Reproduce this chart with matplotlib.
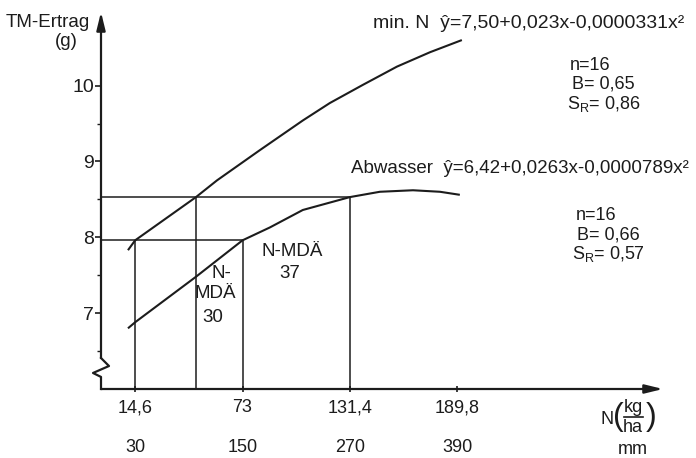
import matplotlib
matplotlib.use('Agg')
import matplotlib.pyplot as plt
from matplotlib.lines import Line2D

plt.rcParams['font.family'] = ['Liberation Sans', 'DejaVu Sans']
INK = '#1c1c1c'

# --- DATA ---
# x = N (kg/ha), y = TM-Ertrag (g)
minN_x = [10.7, 14.6, 47.7, 59.1, 82.5, 105.8, 120.5, 138.5, 157.0, 175.0, 192.3]
minN_y = [7.83, 7.96, 8.53, 8.75, 9.15, 9.54, 9.77, 10.01, 10.25, 10.44, 10.60]
abw_x = [10.7, 14.6, 47.7, 73.0, 87.9, 105.8, 131.4, 147.7, 165.7, 180.4, 191.2]
abw_y = [6.80, 6.88, 7.48, 7.96, 8.13, 8.36, 8.53, 8.60, 8.62, 8.60, 8.56]

level_hi = 8.53          # Abwasser yield at 131,4 kg N
level_lo = 7.96          # min. N yield at 14,6 kg N
drops_hi = [47.7, 131.4]
drops_lo = [14.6, 73.0]

n_ticks = [14.6, 73, 131.4, 189.8]
n_labels = ['14,6', '73', '131,4', '189,8']
mm_labels = ['30', '150', '270', '390']
y_ticks = [7, 8, 9, 10]
y_minor = [6.5, 7.5, 8.5, 9.5]

W, H = 696, 458


def px(x, y):
    # pixel position -> figure fraction
    return x / W, 1 - y / H


# --- FIGURE ---
fig = plt.figure(figsize=(W / 100, H / 100), dpi=100)
fig.patch.set_facecolor('white')
ax = fig.add_axes([101 / W, (H - 389) / H, (663 - 101) / W, (389 - 12) / H])
ax.set_xlim(-3.97, 301.7)
ax.set_ylim(6.0, 10.97)
for s in ax.spines.values():
    s.set_visible(False)

# curves
ax.plot(minN_x, minN_y, color=INK, lw=1.5, solid_capstyle='butt')
ax.plot(abw_x, abw_y, color=INK, lw=1.5, solid_capstyle='butt')

# read-off lines
x0 = ax.get_xlim()[0]
ax.hlines(level_hi, x0, drops_hi[-1], color=INK, lw=1.1)
ax.hlines(level_lo, x0, drops_lo[-1], color=INK, lw=1.1)
ax.vlines(drops_hi, 6.0, level_hi, color=INK, lw=1.1)
ax.vlines(drops_lo, 6.0, level_lo, color=INK, lw=1.1)

# axes with arrows and a break on the y axis
arr = dict(arrowstyle='-|>,head_length=0.9,head_width=0.22', color=INK, lw=1.6,
           shrinkA=0, shrinkB=0, mutation_scale=12)
ax.annotate('', xy=(1.0, 0), xytext=(0, 0), xycoords='axes fraction', arrowprops=arr)
ax.annotate('', xy=(0, 1.0), xytext=(0, 0.0822), xycoords='axes fraction', arrowprops=arr)
zx = [0, 0, -0.0142, 0.0142, 0, 0]
zy = [0, 0.032, 0.0425, 0.061, 0.0822, 0.0822]
ax.plot(zx, zy, color=INK, lw=1.6, transform=ax.transAxes, clip_on=False)

# ticks
ax.set_xticks(n_ticks, n_labels)
ax.set_yticks(y_ticks, [str(t) for t in y_ticks])
ax.set_yticks(y_minor, minor=True)
ax.tick_params(axis='x', direction='inout', length=5, width=1.2, pad=5,
               labelsize=13, colors=INK)
ax.tick_params(axis='y', which='major', direction='out', length=4, width=1.2,
               pad=1, labelsize=14, colors=INK)
ax.tick_params(axis='y', which='minor', direction='out', length=3, width=1.0, colors=INK)

# second row of x labels (mm)
for xv, lab in zip(n_ticks, mm_labels):
    ax.text(xv, -0.154, lab, transform=ax.get_xaxis_transform(),
            ha='center', va='center', fontsize=13, color=INK)

# axis titles
fig.text(*px(90, 27), 'TM-Ertrag', ha='right', va='baseline', fontsize=13.5, color=INK)
fig.text(*px(66, 41), '(g)', ha='center', va='center', fontsize=13.5, color=INK)
fig.text(*px(607, 420), 'N', ha='center', va='center', fontsize=13, color=INK)
fig.text(*px(618, 417), '(', ha='center', va='center', fontsize=23, color=INK)
fig.text(*px(651, 417), ')', ha='center', va='center', fontsize=23, color=INK)
fig.text(*px(633, 408), 'kg', ha='center', va='center', fontsize=13, color=INK)
fig.text(*px(633, 428), 'ha', ha='center', va='center', fontsize=13, color=INK)
fig.add_artist(Line2D([624 / W, 643 / W], [1 - 417 / H, 1 - 417 / H], color=INK, lw=1.2))
fig.text(*px(633, 449), 'mm', ha='center', va='center', fontsize=13, color=INK)

# regression equations and statistics
fig.text(*px(373, 28), 'min. N  ŷ=7,50+0,023x-0,0000331x²', ha='left',
         va='baseline', fontsize=14, color=INK)
fig.text(*px(570, 65), 'n=16', ha='left', va='center', fontsize=13, color=INK)
fig.text(*px(572, 84), 'B= 0,65', ha='left', va='center', fontsize=13, color=INK)
fig.text(*px(567, 104), r'S$_\mathregular{R}$= 0,86', ha='left', va='center',
         fontsize=13, color=INK)

fig.text(*px(689, 173), 'Abwasser  ŷ=6,42+0,0263x-0,0000789x²', ha='right',
         va='baseline', fontsize=13.5, color=INK)
fig.text(*px(576, 215), 'n=16', ha='left', va='center', fontsize=13, color=INK)
fig.text(*px(577, 235), 'B= 0,66', ha='left', va='center', fontsize=13, color=INK)
fig.text(*px(572, 254), r'S$_\mathregular{R}$= 0,57', ha='left', va='center',
         fontsize=13, color=INK)

# N-MDÄ annotations
fig.text(*px(292, 251), 'N-MDÄ', ha='center', va='center', fontsize=13.5, color=INK)
fig.text(*px(290, 273), '37', ha='center', va='center', fontsize=13.5, color=INK)
fig.text(*px(221, 274), 'N-', ha='center', va='center', fontsize=13.5, color=INK)
fig.text(*px(215, 294), 'MDÄ', ha='center', va='center', fontsize=13.5, color=INK)
fig.text(*px(213, 317), '30', ha='center', va='center', fontsize=13.5, color=INK)

fig.savefig('out.png', dpi=100, facecolor='white')
